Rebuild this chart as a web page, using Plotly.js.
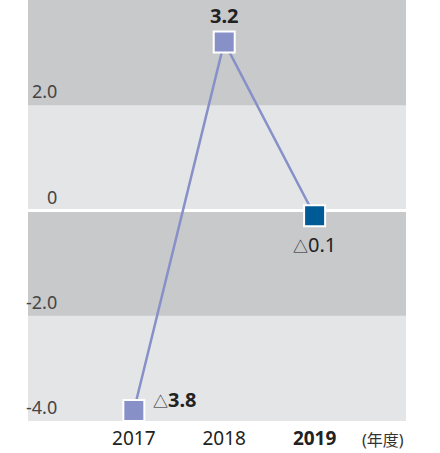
<!DOCTYPE html>
<html>
<head>
<meta charset="utf-8">
<script src="https://cdn.plot.ly/plotly-3.0.1.min.js"></script>
<style>html,body{margin:0;padding:0;background:#fff;}#chart{width:440px;height:453px;}</style>
</head>
<body>
<div id="chart"></div>
<script>
const years = ['2017', '2018', '2019'];
const values = [-3.8, 3.2, -0.1];
const valueLabels = ['<span style="font-size:15px">△</span><b>3.8</b>', '<b>3.2</b>', '<span style="font-size:15px">△</span>0.1'];
const tickLabels = ['2017', '2018', '<b>2019</b>'];
const yTicks = [2, 0, -2, -4];
const yTickLabels = ['2.0', '0', '-2.0', '-4.0'];
const unitLabel = '(年度)';

const xIdx = years.map((_, i) => i);
const lineColor = '#8890c8';
const markerColors = ['#8890c8', '#8890c8', '#005a96'];
const font = '"Noto Sans", "Noto Sans CJK JP", sans-serif';

const labelPos = [
  {xanchor: 'left', yanchor: 'middle', xshift: 17, yshift: 11},
  {xanchor: 'center', yanchor: 'bottom', xshift: 0, yshift: 11},
  {xanchor: 'center', yanchor: 'top', xshift: 0, yshift: -13}
];

const annotations = [];
values.forEach((v, i) => {
  annotations.push(Object.assign({
    x: xIdx[i], y: v, xref: 'x', yref: 'y', text: valueLabels[i], showarrow: false,
    font: {family: font, size: 20, color: '#222'}
  }, labelPos[i]));
});
yTicks.forEach((t, i) => {
  annotations.push({
    x: 0.082, y: t, xref: 'paper', yref: 'y', text: yTickLabels[i], showarrow: false,
    xanchor: 'right', yanchor: 'middle', yshift: 14,
    font: {family: font, size: 18, color: '#444'}
  });
});
annotations.push({
  x: 1.0, y: -0.015, xref: 'paper', yref: 'paper', text: unitLabel, showarrow: false,
  xanchor: 'right', yanchor: 'top', yshift: 0,
  font: {family: font, size: 16, color: '#333'}
});

const shapes = [
  {type: 'rect', xref: 'paper', yref: 'y', x0: 0, x1: 1, y0: 2, y1: 4, fillcolor: '#c8c9cb', line: {width: 0}, layer: 'below'},
  {type: 'rect', xref: 'paper', yref: 'y', x0: 0, x1: 1, y0: -2, y1: 0, fillcolor: '#c8c9cb', line: {width: 0}, layer: 'below'},
  {type: 'line', xref: 'paper', yref: 'y', x0: 0, x1: 1, y0: 0, y1: 0, line: {color: '#ffffff', width: 3}, layer: 'below'}
];

Plotly.newPlot('chart', [{
  type: 'scatter', mode: 'lines+markers', x: xIdx, y: values,
  line: {color: lineColor, width: 2.5},
  marker: {symbol: 'square', size: 21, color: markerColors, line: {color: '#ffffff', width: 2}},
  cliponaxis: false, hoverinfo: 'skip'
}], {
  width: 440, height: 453,
  margin: {l: 27.5, r: 34, t: 0, b: 32, pad: 0},
  paper_bgcolor: '#ffffff', plot_bgcolor: '#e4e5e7',
  showlegend: false,
  xaxis: {range: [-1.171, 3.011], tickvals: xIdx, ticktext: tickLabels, showgrid: false, zeroline: false,
    showline: false, ticks: '', ticklabelstandoff: 4, tickfont: {family: font, size: 19, color: '#222'}, fixedrange: true},
  yaxis: {range: [-4, 4], showgrid: false, zeroline: false, showticklabels: false, ticks: '', fixedrange: true},
  shapes: shapes, annotations: annotations
}, {displayModeBar: false, staticPlot: true});
</script>
</body>
</html>
